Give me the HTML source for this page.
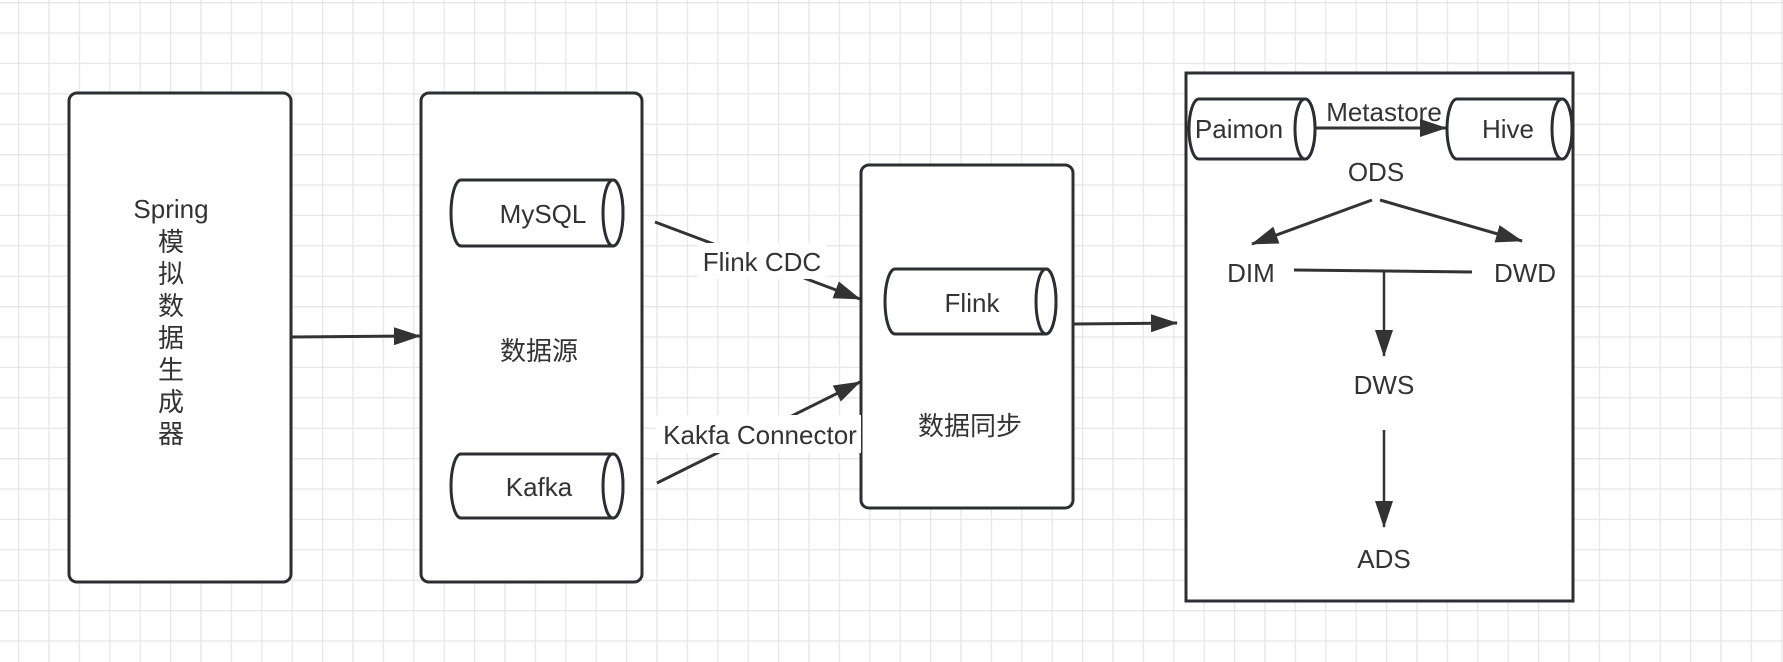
<!DOCTYPE html>
<html><head><meta charset="utf-8"><style>
html,body{margin:0;padding:0;background:#fff}
svg{display:block}
text{font-family:"Liberation Sans","Noto Sans CJK SC",sans-serif;font-size:26px;fill:#333}
</style></head><body>
<svg width="1783" height="662" viewBox="0 0 1783 662" xmlns="http://www.w3.org/2000/svg">
<defs>
<pattern id="g" x="18" y="2" width="30.4" height="30.4" patternUnits="userSpaceOnUse">
<path d="M0 0H30.4M0 0V30.4" stroke="#e6e6e6" stroke-width="2.5" fill="none"/>
</pattern>
<marker id="b" markerWidth="28" markerHeight="18" refX="26" refY="9" orient="auto" markerUnits="userSpaceOnUse">
<path d="M0 0L27 9L0 18Z" fill="#333"/>
</marker>
</defs>
<rect width="1783" height="662" fill="url(#g)"/>
<g stroke="#2b2f33" stroke-width="3" fill="#fff">
<rect x="69" y="93" width="222" height="489" rx="8"/>
<rect x="421" y="93" width="221" height="489" rx="8"/>
<rect x="861" y="165" width="212" height="343" rx="8"/>
<rect x="1186" y="73" width="387" height="528"/>
<path d="M461 180H613A10 33 0 0 1 613 246H461A10 33 0 0 1 461 180Z"/>
<ellipse cx="613" cy="213" rx="10" ry="33"/>
<path d="M461 454H613A10 32 0 0 1 613 518H461A10 32 0 0 1 461 454Z"/>
<ellipse cx="613" cy="486" rx="10" ry="32"/>
<path d="M895 269H1046A10 32.5 0 0 1 1046 334H895A10 32.5 0 0 1 895 269Z"/>
<ellipse cx="1046" cy="301.5" rx="10" ry="32.5"/>
<path d="M1199 99H1305A10 30 0 0 1 1305 159H1199A10 30 0 0 1 1199 99Z"/>
<ellipse cx="1305" cy="129" rx="10" ry="30"/>
<path d="M1457 99H1562A10 30 0 0 1 1562 159H1457A10 30 0 0 1 1457 99Z"/>
<ellipse cx="1562" cy="129" rx="10" ry="30"/>
</g>
<g stroke="#333" stroke-width="3" fill="none">
<line x1="291" y1="337" x2="420" y2="336" marker-end="url(#b)"/>
<line x1="655" y1="222" x2="860" y2="299" marker-end="url(#b)"/>
<line x1="657" y1="483" x2="860" y2="382" marker-end="url(#b)"/>
<line x1="1073" y1="324" x2="1177" y2="323" marker-end="url(#b)"/>
<line x1="1315" y1="128" x2="1446" y2="128" marker-end="url(#b)"/>
<line x1="1372" y1="200" x2="1252" y2="244" marker-end="url(#b)"/>
<line x1="1380" y1="200" x2="1522" y2="241" marker-end="url(#b)"/>
<line x1="1294" y1="270" x2="1472" y2="272"/>
<line x1="1384" y1="271" x2="1384" y2="356" stroke-width="2.5" marker-end="url(#b)"/>
<line x1="1384" y1="430" x2="1384" y2="527" stroke-width="2.5" marker-end="url(#b)"/>
</g>
<rect x="698" y="243" width="128" height="36" fill="#fff"/>
<rect x="656" y="415" width="205" height="38" fill="#fff"/>
<g text-anchor="middle">
<text x="762" y="271">Flink CDC</text>
<text x="760" y="444">Kakfa Connector</text>
<text x="171" y="218">Spring</text>
<text x="171" y="251">模</text>
<text x="171" y="283">拟</text>
<text x="171" y="315">数</text>
<text x="171" y="347">据</text>
<text x="171" y="379">生</text>
<text x="171" y="411">成</text>
<text x="171" y="443">器</text>
<text x="543" y="223">MySQL</text>
<text x="539" y="496">Kafka</text>
<text x="539" y="360">数据源</text>
<text x="972" y="312">Flink</text>
<text x="970" y="435">数据同步</text>
<text x="1239" y="138">Paimon</text>
<text x="1508" y="138">Hive</text>
<text x="1384" y="121">Metastore</text>
<text x="1376" y="181">ODS</text>
<text x="1251" y="282">DIM</text>
<text x="1525" y="282">DWD</text>
<text x="1384" y="394">DWS</text>
<text x="1384" y="568">ADS</text>
</g>
</svg>
</body></html>
